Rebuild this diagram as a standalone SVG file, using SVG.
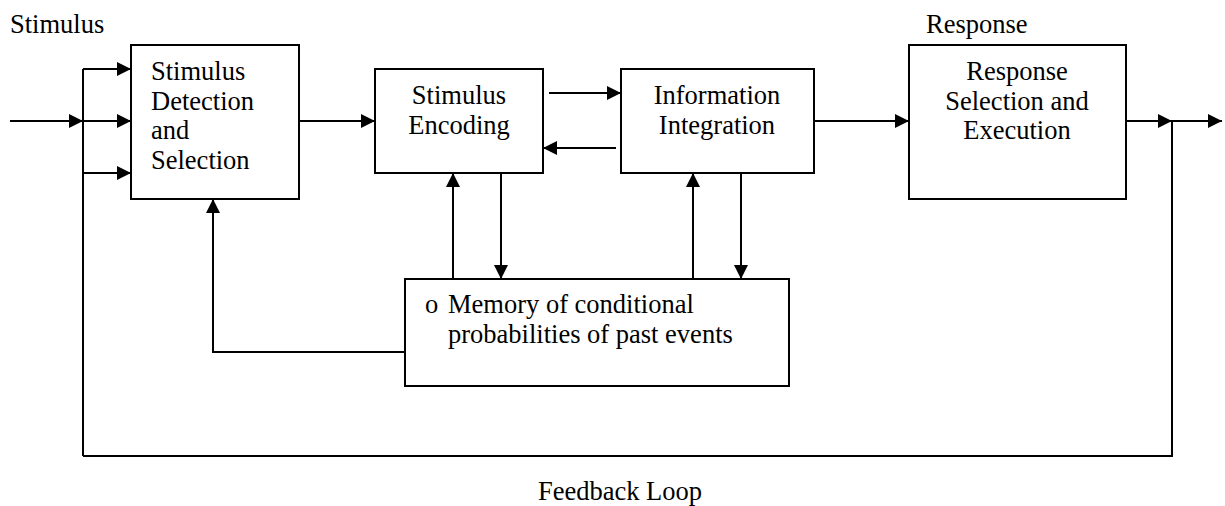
<svg xmlns="http://www.w3.org/2000/svg" width="1225" height="506" viewBox="0 0 1225 506">
  <style>
    .box { fill: #ffffff; stroke: #000000; stroke-width: 2; }
    .wire { fill: none; stroke: #000000; stroke-width: 2; }
    .arrow { marker-end: url(#head); }
    text { font-family: 'Liberation Serif', Tinos, 'DejaVu Serif', serif; font-size: 26.5px; fill: #000000; }
    .mid { text-anchor: middle; }
  </style>
  <defs>
    <marker id="head" markerUnits="userSpaceOnUse" markerWidth="14" markerHeight="14" refX="14" refY="7" orient="auto">
      <path d="M0,0 L14,7 L0,14 z" fill="#000000"/>
    </marker>
  </defs>
  <rect width="1225" height="506" fill="#ffffff"/>

  <!-- free labels -->
  <text x="10" y="33">Stimulus</text>
  <text x="926" y="33">Response</text>
  <text x="620" y="500" class="mid">Feedback Loop</text>

  <!-- connectors -->
  <g id="connectors">
    <!-- stimulus input and fan-out -->
    <line class="wire arrow" x1="10" y1="121" x2="83" y2="121"/>
    <line class="wire" x1="83" y1="69" x2="83" y2="456"/>
    <line class="wire arrow" x1="83" y1="69" x2="131" y2="69"/>
    <line class="wire arrow" x1="83" y1="121" x2="131" y2="121"/>
    <line class="wire arrow" x1="83" y1="173" x2="131" y2="173"/>
    <!-- main chain -->
    <line class="wire arrow" x1="299" y1="121" x2="375" y2="121"/>
    <line class="wire arrow" x1="549" y1="93" x2="621" y2="93"/>
    <line class="wire arrow" x1="616" y1="148" x2="543" y2="148"/>
    <line class="wire arrow" x1="814" y1="121" x2="909" y2="121"/>
    <!-- output -->
    <line class="wire arrow" x1="1126" y1="121" x2="1172" y2="121"/>
    <line class="wire arrow" x1="1172" y1="121" x2="1222" y2="121"/>
    <!-- feedback loop -->
    <polyline class="wire" points="1172,121 1172,456 83,456"/>
    <!-- memory links -->
    <line class="wire arrow" x1="453" y1="279" x2="453" y2="173"/>
    <line class="wire arrow" x1="501" y1="173" x2="501" y2="279"/>
    <line class="wire arrow" x1="693" y1="279" x2="693" y2="173"/>
    <line class="wire arrow" x1="741" y1="173" x2="741" y2="279"/>
    <polyline class="wire arrow" points="405,352 213,352 213,199"/>
  </g>

  <g id="detection">
    <rect class="box" x="131" y="45" width="168" height="154"/>
    <text x="151" y="80">Stimulus</text>
    <text x="151" y="110">Detection</text>
    <text x="151" y="139">and</text>
    <text x="151" y="169">Selection</text>
  </g>

  <g id="encoding">
    <rect class="box" x="375" y="69" width="168" height="104"/>
    <text x="459" y="104" class="mid">Stimulus</text>
    <text x="459" y="134" class="mid">Encoding</text>
  </g>

  <g id="integration">
    <rect class="box" x="621" y="69" width="193" height="104"/>
    <text x="717" y="104" class="mid">Information</text>
    <text x="717" y="134" class="mid">Integration</text>
  </g>

  <g id="response">
    <rect class="box" x="909" y="45" width="217" height="154"/>
    <text x="1017" y="80" class="mid">Response</text>
    <text x="1017" y="110" class="mid">Selection and</text>
    <text x="1017" y="139" class="mid">Execution</text>
  </g>

  <g id="memory">
    <rect class="box" x="405" y="279" width="384" height="107"/>
    <text x="425" y="313">o</text>
    <text x="448" y="313">Memory of conditional</text>
    <text x="448" y="343">probabilities of past events</text>
  </g>
</svg>
